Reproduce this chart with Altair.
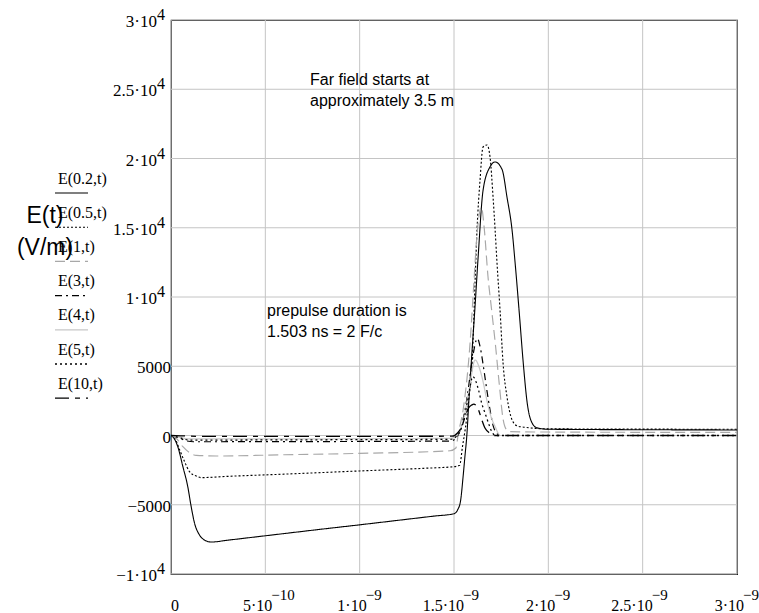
import altair as alt
import pandas as pd

# ---------------- data (t in ns, E in V/m) ----------------
names = ["E(0.2,t)", "E(0.5,t)", "E(1,t)", "E(3,t)", "E(4,t)", "E(5,t)", "E(10,t)"]

t_02 = [0, 0.01, 0.036, 0.063, 0.089, 0.107, 0.125, 0.151, 0.178, 0.213, 0.3, 0.45, 0.6,
        0.8, 1.0, 1.2, 1.4, 1.5,
        1.52, 1.535, 1.548, 1.558, 1.568, 1.58, 1.595, 1.61, 1.628, 1.654, 1.691, 1.718,
        1.755, 1.781, 1.808, 1.824, 1.846, 1.867, 1.888, 1.914, 1.94, 2.0, 3.0]
e_02 = [0, -100, -810, -2250, -3700, -5140, -6340, -7180, -7550, -7690, -7560, -7320, -7080,
        -6760, -6450, -6130, -5810, -5650,
        -5350, -4700, -3000, -1500, 0, 2800, 6000, 9000, 12900, 17700, 19400, 19750,
        19200, 17200, 14800, 12450, 8850, 5250, 2350, 900, 550, 450, 400]

t_05 = [0, 0.02, 0.046, 0.072, 0.098, 0.134, 0.16, 0.3, 0.6, 1.0, 1.337, 1.5, 1.53, 1.545, 1.56,
        1.58, 1.596, 1.612, 1.622, 1.638, 1.654, 1.675, 1.691, 1.707, 1.718, 1.728, 1.744,
        1.76, 1.781, 1.808, 1.835, 1.87, 2.0, 3.0]
e_05 = [0, -200, -1040, -1890, -2610, -2930, -3040, -2950, -2790, -2560, -2370, -2250, -2150,
        -800, 500,
        2800, 5230, 11230, 14840, 18450, 20830, 20975, 20110, 17220, 14840, 12450, 9060,
        5230, 2780, 1120, 690, 600, 480, 450]

t_1 = [0, 0.028, 0.063, 0.098, 0.134, 0.24, 0.6, 1.0, 1.479, 1.51, 1.523, 1.55, 1.585, 1.603,
       1.621, 1.645, 1.66, 1.68, 1.70, 1.72, 1.74, 1.76, 1.78, 1.8, 2.0, 3.0]
e_1 = [0, -200, -810, -1240, -1430, -1480, -1390, -1290, -1100, -900, 150, 2000, 6650, 10500,
       14330, 16500, 15000, 11500, 9000, 6500, 3700, 1200, 400, 280, 250, 220]

t_3 = [0, 0.03, 0.08, 0.12, 1.0, 1.48, 1.51, 1.54, 1.57, 1.595, 1.624, 1.64, 1.656, 1.674,
       1.691, 1.709, 1.727, 1.75, 3.0]
e_3 = [0, -100, -380, -450, -430, -400, -200, 700, 2800, 5300, 7000, 6300, 4970, 3290,
       1840, 640, 160, 0, 0]

t_4 = [0, 0.03, 0.1, 1.0, 1.48, 1.51, 1.55, 1.58, 1.612, 1.638, 1.656, 1.674, 1.691, 1.718,
       1.745, 3.0]
e_4 = [0, -80, -250, -230, -200, -50, 1120, 3300, 5450, 4730, 3770, 2560, 1600, 640, 0, 0]

t_5 = [0, 0.03, 0.1, 1.0, 1.48, 1.51, 1.55, 1.575, 1.6, 1.63, 1.647, 1.665, 1.683, 1.7,
       1.72, 3.0]
e_5 = [0, -100, -330, -300, -280, -100, 1000, 2700, 4250, 3290, 2320, 1600, 880, 280, 0, 0]

t_10 = [0, 0.05, 0.15, 1.0, 1.49, 1.52, 1.541, 1.559, 1.576, 1.594, 1.605, 1.63, 1.647,
        1.665, 1.691, 1.71, 3.0]
e_10 = [0, -20, -60, -60, -50, 200, 640, 1360, 1960, 2200, 2270, 1840, 1150, 520, 160, 0, 0]

series_t = [t_02, t_05, t_1, t_3, t_4, t_5, t_10]
series_e = [e_02, e_05, e_1, e_3, e_4, e_5, e_10]

colors = ["#000000", "#000000", "#a8a8a8", "#000000", "#c8c8c8", "#000000", "#000000"]
dashes = [[1, 0], [2, 2], [10, 5], [7, 4, 2, 4], [1, 0], [2, 3], [14, 6, 5, 6]]
widths = [1.1, 1.3, 1.2, 1.2, 1.3, 1.1, 1.5]

y_vals = [30000, 25000, 20000, 15000, 10000, 5000, 0, -5000, -10000]
y_base = ["3·10", "2.5·10", "2·10", "1.5·10", "1·10", "5000", "0", "−5000", "−1·10"]
y_exp = ["4", "4", "4", "4", "4", "", "", "", "4"]

x_vals = [0, 0.5, 1.0, 1.5, 2.0, 2.5, 3.0]
x_base = ["0", "5·10", "1·10", "1.5·10", "2·10", "2.5·10", "3·10"]
x_exp = ["", "−10", "−9", "−9", "−9", "−9", "−9"]

# ---------------- tables ----------------
rows = []
for k, n in enumerate(names):
    for t, e in zip(series_t[k], series_e[k]):
        rows.append({"series": n, "k": k, "t": t, "E": e})
curves = pd.DataFrame(rows)
ylab = pd.DataFrame({"v": y_vals, "base": y_base, "exp": y_exp})
xlab = pd.DataFrame({"v": x_vals, "base": x_base, "exp": x_exp})
leg = pd.DataFrame({"series": names, "i": list(range(len(names)))})

W, H = 566, 554
xs = alt.Scale(domain=[0, 3], nice=False, zero=False)
ys = alt.Scale(domain=[-10000, 30000], nice=False, zero=False)
col = alt.Color("series:N", scale=alt.Scale(domain=names, range=colors), legend=None)
dsh = alt.StrokeDash("series:N", scale=alt.Scale(domain=names, range=dashes), legend=None)
swd = alt.StrokeWidth("series:N", scale=alt.Scale(domain=names, range=widths), legend=None)

SERIF = "Liberation Serif"
SANS = "Liberation Sans"

gridx = alt.Chart(xlab).mark_rule(color="#c4c4c4", strokeWidth=1).encode(
    x=alt.X("v:Q", scale=xs, axis=None), y=alt.value(0), y2=alt.value(H))
gridy = alt.Chart(ylab).mark_rule(color="#c4c4c4", strokeWidth=1).encode(
    y=alt.Y("v:Q", scale=ys, axis=None), x=alt.value(0), x2=alt.value(W))

lines = alt.Chart(curves).mark_line(clip=True, interpolate="monotone").encode(
    x=alt.X("t:Q", scale=xs, axis=None),
    y=alt.Y("E:Q", scale=ys, axis=None),
    color=col, strokeDash=dsh, strokeWidth=swd,
    order=alt.Order("t:Q"),
    detail="series:N",
)

# y tick labels
ybase_e = alt.Chart(ylab).transform_filter("datum.exp != ''").mark_text(
    align="right", baseline="alphabetic", dy=7, font=SERIF, fontSize=17, color="black"
).encode(x=alt.value(-14), y=alt.Y("v:Q", scale=ys, axis=None), text="base:N")
yexp = alt.Chart(ylab).transform_filter("datum.exp != ''").mark_text(
    align="left", baseline="alphabetic", dy=0, font=SERIF, fontSize=16, color="black"
).encode(x=alt.value(-14), y=alt.Y("v:Q", scale=ys, axis=None), text="exp:N")
ybase_n = alt.Chart(ylab).transform_filter("datum.exp == ''").mark_text(
    align="right", baseline="alphabetic", dy=7, font=SERIF, fontSize=17, color="black"
).encode(x=alt.value(0), y=alt.Y("v:Q", scale=ys, axis=None), text="base:N")

# x tick labels
xl0 = alt.Chart(xlab).transform_filter("datum.exp == ''").mark_text(
    align="center", baseline="alphabetic", dx=4, font=SERIF, fontSize=16, color="black"
).encode(x=alt.X("v:Q", scale=xs, axis=None), y=alt.value(H + 37), text="base:N")
xls_b = alt.Chart(xlab).transform_filter("datum.exp != '' && length(datum.base) <= 4").mark_text(
    align="right", baseline="alphabetic", dx=7, font=SERIF, fontSize=16, color="black"
).encode(x=alt.X("v:Q", scale=xs, axis=None), y=alt.value(H + 37), text="base:N")
xls_e = alt.Chart(xlab).transform_filter("datum.exp != '' && length(datum.base) <= 4").mark_text(
    align="left", baseline="alphabetic", dx=6, font=SERIF, fontSize=15, color="black"
).encode(x=alt.X("v:Q", scale=xs, axis=None), y=alt.value(H + 26), text="exp:N")
xll_b = alt.Chart(xlab).transform_filter("length(datum.base) > 4").mark_text(
    align="right", baseline="alphabetic", dx=10, font=SERIF, fontSize=16, color="black"
).encode(x=alt.X("v:Q", scale=xs, axis=None), y=alt.value(H + 37), text="base:N")
xll_e = alt.Chart(xlab).transform_filter("length(datum.base) > 4").mark_text(
    align="left", baseline="alphabetic", dx=9, font=SERIF, fontSize=15, color="black"
).encode(x=alt.X("v:Q", scale=xs, axis=None), y=alt.value(H + 26), text="exp:N")

# Mathcad-style legend on the left
leg_lines = alt.Chart(leg).transform_calculate(py="173 + datum.i * 34.2").mark_rule().encode(
    x=alt.value(-116), x2=alt.value(-83), y=alt.Y("py:Q", scale=None, axis=None),
    color=col, strokeDash=dsh, strokeWidth=swd)
leg_text = alt.Chart(leg).transform_calculate(py="163.5 + datum.i * 34.2").mark_text(
    align="left", baseline="alphabetic", font=SERIF, fontSize=16, color="black"
).encode(x=alt.value(-113), y=alt.Y("py:Q", scale=None, axis=None), text="series:N")

one = pd.DataFrame({"a": [0]})
ytitle = alt.Chart(one).mark_text(
    align="center", baseline="alphabetic", font=SANS, fontSize=23, color="black",
    lineBreak="\n", lineHeight=32
).encode(x=alt.value(-126), y=alt.value(203), text=alt.value("E(t)\n(V/m)"))

note1 = alt.Chart(one).mark_text(
    align="left", baseline="alphabetic", font=SANS, fontSize=16, color="black",
    lineBreak="\n", lineHeight=21
).encode(x=alt.value(139), y=alt.value(65),
         text=alt.value("Far field starts at\napproximately 3.5 m"))
note2 = alt.Chart(one).mark_text(
    align="left", baseline="alphabetic", font=SANS, fontSize=16, color="black",
    lineBreak="\n", lineHeight=21
).encode(x=alt.value(96), y=alt.value(296),
         text=alt.value("prepulse duration is\n1.503 ns = 2 F/c"))

chart = alt.layer(
    gridx, gridy, lines, ybase_e, yexp, ybase_n, xl0, xls_b, xls_e, xll_b, xll_e,
    leg_lines, leg_text, ytitle, note1, note2
).properties(
    width=W, height=H,
    autosize=alt.AutoSizeParams(type="none"),
    padding={"left": 171, "top": 20, "right": 22, "bottom": 39},
    background="white",
).configure_view(stroke="black", strokeWidth=1.2)

chart.save("out.html", embed_options={"renderer": "svg", "actions": False})
